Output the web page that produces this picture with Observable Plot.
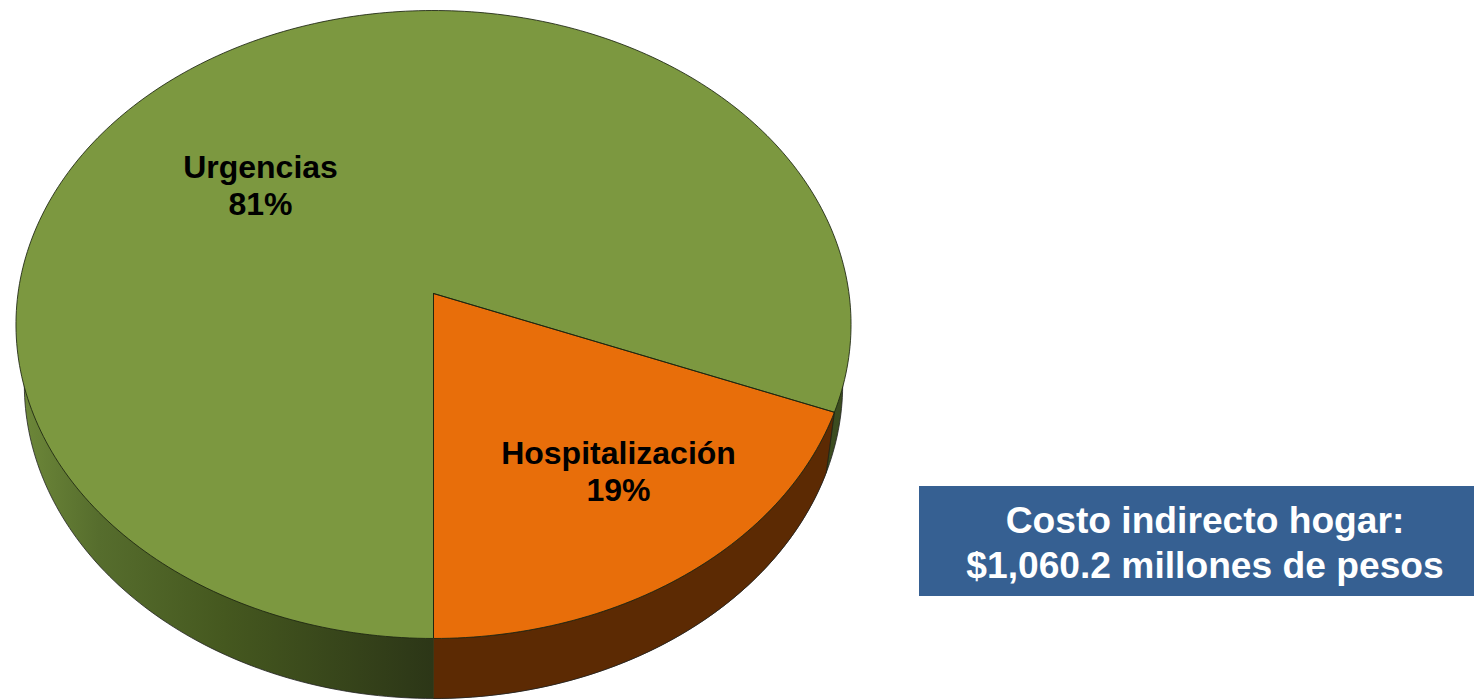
<!DOCTYPE html>
<html>
<head>
<meta charset="utf-8">
<style>
html,body{margin:0;padding:0;background:#fff;overflow:hidden}
svg{display:block}
</style>
<script src="https://cdn.jsdelivr.net/npm/d3@7"></script>
<script src="https://cdn.jsdelivr.net/npm/@observablehq/plot@0.6"></script>
</head>
<body>
<div id="chart"></div>
<script>
// Data
const categories = ["Hospitalización", "Urgencias"];
const shares = [19, 81];
const boxLines = ["Costo indirecto hogar:", "$1,060.2 millones de pesos"];

// Styles
const topColors = {"Hospitalización": "#e86e0a", "Urgencias": "#7c9840"};
const orangeWall = "#5c2a03";

// Layout (in page units of the x and y scales)
const W = 1474, H = 699;
const cx = 433, apexY = 293, R = 415.5, tilt = -0.0987, squash = 282;
const rimScale = 0.98, depth = 60;
const labelAt = {"Hospitalización": [618, 470], "Urgencias": [260, 184]};

// Perspective view of a point at radius r, angle a measured from 6 o'clock
function project(a, r = 1) {
  const u = r * Math.sin(a), t = r * Math.cos(a), w = 1 + tilt * t;
  return {x: cx + R * u / w, y: (squash * t + apexY) / w};
}
function lower(a) {
  const p = project(a);
  return {x: cx + (p.x - cx) * rimScale, y: p.y + depth};
}
const deg = Math.PI / 180;
function arcAngles(a0, a1) {
  const n = Math.max(2, Math.ceil((a1 - a0) / deg));
  return d3.range(n + 1).map(i => a0 + (a1 - a0) * i / n);
}

// Cumulative angles from the shares
const total = d3.sum(shares);
let acc = 0;
const slices = categories.map((c, i) => {
  const a0 = acc / total * 2 * Math.PI;
  acc += shares[i];
  const a1 = acc / total * 2 * Math.PI;
  return {category: c, share: shares[i], a0, a1};
});

function topPath(s) {
  const apex = {x: cx, y: apexY};
  return [apex, ...arcAngles(s.a0, s.a1).map(a => project(a)), apex];
}
const hosp = slices[0];
const hospWall = [
  ...arcAngles(hosp.a0, hosp.a1).map(a => project(a)),
  ...arcAngles(hosp.a0, hosp.a1).reverse().map(lower)
];
const wholeRim = arcAngles(0, 2 * Math.PI).map(lower);
const frontEdge = [project(0), lower(0)];
const sideEdge = [project(hosp.a1), lower(hosp.a1)];

const labels = slices.map(s => ({
  x: labelAt[s.category][0],
  y: labelAt[s.category][1],
  text: `${s.category}\n${s.share}%`
}));

const gradient = () => {
  const defs = d3.create("svg:defs");
  const g = defs.append("linearGradient")
    .attr("id", "greenWall").attr("gradientUnits", "userSpaceOnUse")
    .attr("x1", 15).attr("x2", 851).attr("y1", 0).attr("y2", 0);
  [[0, "#6f8a3a"], [0.1, "#566d2d"], [0.25, "#45581f"], [0.5, "#2c3617"], [0.6, "#2c3617"], [1, "#3c4d20"]]
    .forEach(([o, c]) => g.append("stop").attr("offset", o).attr("stop-color", c));
  return defs.node();
};

const edge = {x: "x", y: "y", stroke: "#1c2410", strokeWidth: 1, strokeOpacity: 0.85, curve: "linear"};

const plot = Plot.plot({
  width: W, height: H,
  margin: 0,
  x: {domain: [0, W], range: [0, W], axis: null},
  y: {domain: [0, H], range: [0, H], axis: null},
  marks: [
    gradient,
    Plot.line(wholeRim, {x: "x", y: "y", fill: "url(#greenWall)", stroke: "#222", strokeWidth: 0.8}),
    Plot.line(hospWall, {x: "x", y: "y", fill: orangeWall, stroke: "#222", strokeWidth: 0.6}),
    Plot.line(topPath(slices[1]), {x: "x", y: "y", fill: topColors["Urgencias"], stroke: "none"}),
    Plot.line(topPath(slices[0]), {x: "x", y: "y", fill: topColors["Hospitalización"], stroke: "none"}),
    Plot.line(topPath(slices[1]), edge),
    Plot.line(topPath(slices[0]), edge),
    Plot.line(frontEdge, {...edge, stroke: "#3a3a1a"}),
    Plot.line(sideEdge, {...edge, strokeOpacity: 0.5}),
    Plot.text(labels, {
      x: "x", y: "y", text: "text",
      fontFamily: "Liberation Sans", fontWeight: "bold", fontSize: 32,
      lineHeight: 1.16, fill: "#000", textAnchor: "middle", lineAnchor: "middle"
    }),
    Plot.rect([{}], {x1: () => 919, x2: () => W, y1: () => 486, y2: () => 596, fill: "#366092"}),
    Plot.text([boxLines.join("\n")], {
      x: () => 1204.5, y: () => 541, text: d => d,
      fontFamily: "Liberation Sans", fontWeight: "bold", fontSize: 37.2,
      lineHeight: 1.21, fill: "#fff", textAnchor: "middle", lineAnchor: "middle"
    })
  ]
});
document.getElementById("chart").appendChild(plot);
</script>
</body>
</html>
